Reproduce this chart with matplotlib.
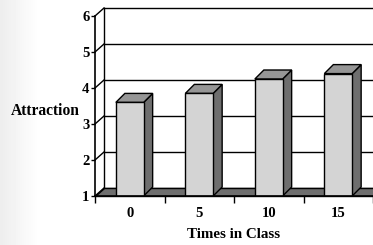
import numpy as np
import matplotlib.pyplot as plt
from matplotlib.patches import Polygon

# Data
kategori = ['0', '5', '10', '15']
nilai = [3.6, 3.85, 4.25, 4.4]
yticks = [1, 2, 3, 4, 5, 6]

font = {'family': ['Liberation Serif', 'DejaVu Serif'], 'weight': 'bold'}

fig = plt.figure(figsize=(3.73, 2.45), dpi=100)

# Latar belakang gradasi di kiri
bg = fig.add_axes([0, 0, 1, 1], zorder=-10)
grad = np.linspace(0.93, 1.0, 40)
grad = np.concatenate([grad, np.ones(333)])
bg.imshow(np.tile(grad, (10, 1)), cmap='gray', vmin=0, vmax=1, aspect='auto',
          extent=[0, 1, 0, 1])
bg.axis('off')

ax = fig.add_axes([95 / 373, 49 / 245, 278 / 373, 180 / 245])
ax.set_xlim(-0.5, 3.5)
ax.set_ylim(1, 6)
ax.patch.set_alpha(0)

# Offset kedalaman 3D (dalam satuan data)
dx = 9 / 69.5
dy = 8 / 36
dyb = 9 / 36

# Dinding belakang dan grid
x_kanan = 3.5 + 1.0
ax.add_patch(Polygon([(-0.5 + dx, 1 + dy), (x_kanan, 1 + dy), (x_kanan, 6 + dy),
                      (-0.5 + dx, 6 + dy)], closed=True, facecolor='white',
                     edgecolor='none', clip_on=False, zorder=0))
for v in yticks:
    ax.plot([-0.5 + dx, x_kanan], [v + dy, v + dy], color='black', lw=1,
            clip_on=False, zorder=1)
    ax.plot([-0.5, -0.5 + dx], [v, v + dy], color='black', lw=1,
            clip_on=False, zorder=1)
ax.plot([-0.5 + dx, -0.5 + dx], [1 + dy, 6 + dy], color='black', lw=1,
        clip_on=False, zorder=1)

# Lantai
ax.add_patch(Polygon([(-0.5, 1), (x_kanan, 1), (x_kanan, 1 + dy), (-0.5 + dx, 1 + dy)],
                     closed=True, facecolor='#6e6e6e', edgecolor='black', lw=1,
                     clip_on=False, zorder=2))

# Batang
x = np.arange(len(kategori))
w = 0.4
nilai = np.array(nilai)
ax.bar(x, nilai - 1, bottom=1, width=w, color='#d4d4d4', edgecolor='black',
       lw=1, zorder=5)
for i in range(len(kategori)):
    xl = x[i] - w / 2
    xr = x[i] + w / 2
    v = nilai[i]
    ax.add_patch(Polygon([(xr, 1), (xr + dx, 1 + dyb), (xr + dx, v + dyb), (xr, v)],
                         closed=True, facecolor='#6e6e6e', edgecolor='black',
                         lw=1, clip_on=False, zorder=4))
    ax.add_patch(Polygon([(xl, v), (xr, v), (xr + dx, v + dyb), (xl + dx, v + dyb)],
                         closed=True, facecolor='#969696', edgecolor='black',
                         lw=1, clip_on=False, zorder=4))

# Sumbu
for s in ['top', 'right']:
    ax.spines[s].set_visible(False)
ax.spines['left'].set_linewidth(1.2)
ax.spines['bottom'].set_linewidth(1.2)
ax.spines['bottom'].set_zorder(6)

ax.set_yticks(yticks)
ax.set_yticklabels([str(v) for v in yticks], fontdict=dict(font, size=10.5))
ax.tick_params(axis='y', length=3, width=1, pad=1)

ax.set_xticks([-0.5, 0.5, 1.5, 2.5, 3.5])
ax.set_xticklabels([])
ax.tick_params(axis='x', which='major', length=5, width=1)
ax.set_xticks(x, minor=True)
ax.set_xticklabels(kategori, minor=True, fontdict=dict(font, size=10.5))
ax.tick_params(axis='x', which='minor', length=0, pad=8)

ax.set_xlabel('Times in Class', fontdict=dict(font, size=10.8), labelpad=6)
fig.text(45 / 373, 1 - 111 / 245, 'Attraction', ha='center', va='center',
         fontdict=dict(font, size=11.2))

fig.savefig('out.png', dpi=100)
